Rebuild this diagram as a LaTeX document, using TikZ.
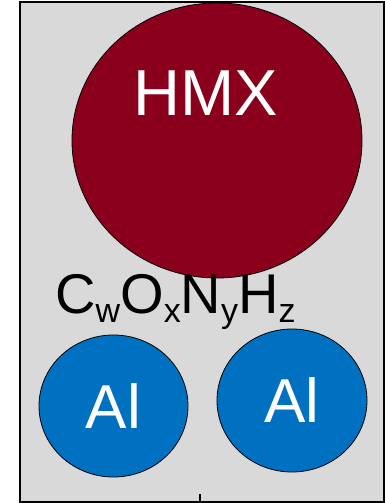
\documentclass[tikz,border=0pt]{standalone}
\usepackage{fontspec}
\setmainfont{Liberation Sans}
\usetikzlibrary{shapes.geometric, positioning}
\definecolor{hmxred}{HTML}{8A001C}
\definecolor{alblue}{HTML}{0070C0}
\definecolor{boxgray}{HTML}{D9D9D9}

% lowered index for the chemical formula
\newcommand{\lowidx}[1]{\raisebox{-9pt}{\fontsize{34}{36}\selectfont #1}}

\begin{document}
\begin{tikzpicture}[x=1pt, y=-1pt,
      grain/.style={ellipse, draw=black, thick, text=white, inner sep=0pt},
      big/.style={font=\fontsize{65}{70}\selectfont},
      mid/.style={font=\fontsize{62}{66}\selectfont}
    ]
      \useasboundingbox (0,0) rectangle (385,503);
      % box
      \draw[line width=1.6pt, fill=boxgray] (20,2) rectangle (384,502);
      \coordinate (T0) at (200,502);
      \coordinate (T1) at (200,494);
      \draw[line width=1.2pt] (T0) -- (T1);

      % explosive grain
      \node[grain, fill=hmxred, minimum width=290pt, minimum height=275pt] (HMX) at (217,140.5) {};
      \node[big, text=white, anchor=base] (HMXlabel) at (205.5,115) {HMX};

      % formula
      \node[anchor=base west, inner sep=0pt, font=\fontsize{56}{60}\selectfont] (F) at (55,313)
        {C\lowidx{w}O\lowidx{x}N\lowidx{y}H\lowidx{z}};

      % aluminium grains
      \node[grain, mid, fill=alblue, minimum width=149pt, minimum height=142pt] (Al1) at (113.5,406) {Al};
      \node[grain, mid, fill=alblue, minimum width=150pt, minimum height=143pt] (Al2) at (292,400.5) {Al};
    \end{tikzpicture}
\end{document}
